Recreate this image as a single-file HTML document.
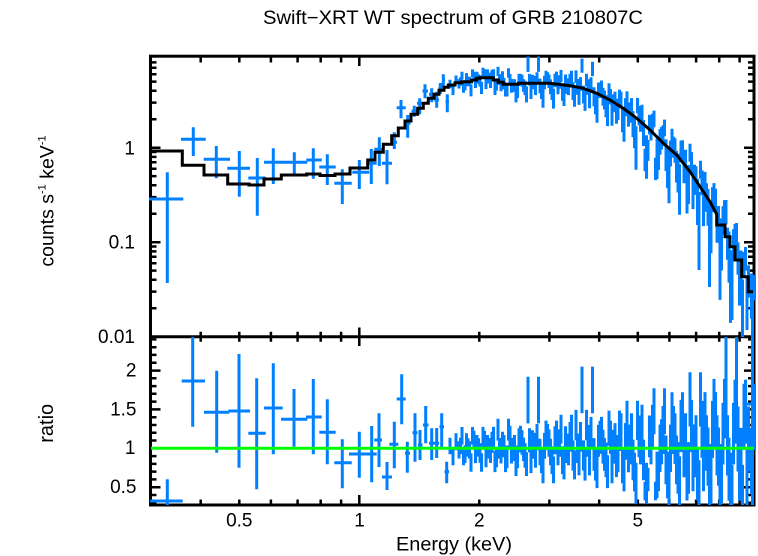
<!DOCTYPE html>
<html>
<head>
<meta charset="utf-8">
<style>
html,body{margin:0;padding:0;background:#fff;}
svg{display:block;}
text{font-family:"Liberation Sans",Arial,Helvetica,sans-serif;fill:#000;}
</style>
</head>
<body>
<svg xmlns="http://www.w3.org/2000/svg" width="758" height="556" viewBox="0 0 758 556">
<defs>
<clipPath id="cTop"><rect x="148" y="54" width="608" height="283"/></clipPath>
<clipPath id="cRat"><rect x="148" y="337" width="608" height="168"/></clipPath>
</defs>
<rect x="0" y="0" width="758" height="556" fill="#fff"/>

<text x="453" y="24" font-size="19.5" text-anchor="middle" textLength="380" lengthAdjust="spacingAndGlyphs">Swift−XRT WT spectrum of GRB 210807C</text>

<g fill="none" stroke="#000" stroke-width="3">
<rect x="150.5" y="56.2" width="603.5" height="448.8"/>
<path d="M150.5 336.8H754"/>
</g>
<g fill="none" stroke="#000" stroke-width="2.5">
<path d="M200.7 56v6.5M239.3 56v6.5M270.9 56v6.5M297.6 56v6.5M320.7 56v6.5M341.1 56v6.5M359.3 56v10M479.3 56v6.5M549.4 56v6.5M599.2 56v6.5M637.8 56v6.5M669.4 56v6.5M696.1 56v6.5M719.2 56v6.5M739.6 56v6.5"/>
<path d="M200.7 331.8v10M239.3 331.8v10M270.9 331.8v10M297.6 331.8v10M320.7 331.8v10M341.1 331.8v10M359.3 327.5v18.5M479.3 331.8v10M549.4 331.8v10M599.2 331.8v10M637.8 331.8v10M669.4 331.8v10M696.1 331.8v10M719.2 331.8v10M739.6 331.8v10"/>
<path d="M200.7 505v-5.5M239.3 505v-5.5M270.9 505v-5.5M297.6 505v-5.5M320.7 505v-5.5M341.1 505v-5.5M359.3 505v-10M479.3 505v-5.5M549.4 505v-5.5M599.2 505v-5.5M637.8 505v-5.5M669.4 505v-5.5M696.1 505v-5.5M719.2 505v-5.5M739.6 505v-5.5"/>
<path d="M150 308.3h6.5M150 291.6h6.5M150 279.8h6.5M150 270.6h6.5M150 263.2h6.5M150 256.8h6.5M150 251.4h6.5M150 246.5h6.5M150 242.2h10.5M150 213.8h6.5M150 197.1h6.5M150 185.3h6.5M150 176.1h6.5M150 168.7h6.5M150 162.3h6.5M150 156.9h6.5M150 152h6.5M150 147.7h10.5M150 119.3h6.5M150 102.6h6.5M150 90.8h6.5M150 81.6h6.5M150 74.2h6.5M150 67.8h6.5M150 62.4h6.5M150 336.7h10.5"/>
<path d="M754 308.3h-6M754 291.6h-6M754 279.8h-6M754 270.6h-6M754 263.2h-6M754 256.8h-6M754 251.4h-6M754 246.5h-6M754 242.2h-10M754 213.8h-6M754 197.1h-6M754 185.3h-6M754 176.1h-6M754 168.7h-6M754 162.3h-6M754 156.9h-6M754 152h-6M754 147.7h-10M754 119.3h-6M754 102.6h-6M754 90.8h-6M754 81.6h-6M754 74.2h-6M754 67.8h-6M754 62.4h-6"/>
<path d="M150 502.8h6.5M150 495h6.5M150 487.2h10.5M150 479.4h6.5M150 471.6h6.5M150 463.9h6.5M150 456.1h6.5M150 448.3h10.5M150 440.5h6.5M150 432.7h6.5M150 425h6.5M150 417.2h6.5M150 409.4h10.5M150 401.6h6.5M150 393.8h6.5M150 386.1h6.5M150 378.3h6.5M150 370.6h10.5M150 362.7h6.5M150 354.9h6.5M150 347.2h6.5M150 339.4h6.5"/>
<path d="M754 502.8h-6M754 495h-6M754 487.2h-10M754 479.4h-6M754 471.6h-6M754 463.9h-6M754 456.1h-6M754 448.3h-10M754 440.5h-6M754 432.7h-6M754 425h-6M754 417.2h-6M754 409.4h-10M754 401.6h-6M754 393.8h-6M754 386.1h-6M754 378.3h-6M754 370.6h-10M754 362.7h-6M754 354.9h-6M754 347.2h-6M754 339.4h-6"/>
</g>

<g font-size="19" text-anchor="end">
<text x="135" y="154.5">1</text>
<text x="135" y="248.7">0.1</text>
<text x="135" y="342.8">0.01</text>
<text x="136.5" y="376.5">2</text>
<text x="136.5" y="415.3">1.5</text>
<text x="135.5" y="454.2">1</text>
<text x="136.5" y="493.2">0.5</text>
</g>
<g font-size="19" text-anchor="middle">
<text x="239.3" y="526.7">0.5</text>
<text x="359.6" y="526.7">1</text>
<text x="479.3" y="526.7">2</text>
<text x="637.8" y="526.7">5</text>
</g>

<text x="454" y="550.7" font-size="19.5" text-anchor="middle" textLength="116" lengthAdjust="spacingAndGlyphs">Energy (keV)</text>
<text transform="translate(53.3,201) rotate(-90)" font-size="19.5" text-anchor="middle">counts s<tspan font-size="11" dy="-8">-1</tspan><tspan dy="8"> keV</tspan><tspan font-size="11" dy="-8">-1</tspan></text>
<text transform="translate(53,423.3) rotate(-90)" font-size="20" text-anchor="middle">ratio</text>

<!-- top panel data -->
<g clip-path="url(#cTop)" fill="none" stroke="#0080ff" stroke-width="3">
<path d="M167.3 172.3V283M149 199H183.3
M193.3 127.3V156M181 139.3H205.7
M216.3 146V178.3M203.7 159.3H230
M239.3 151V196.7M227.3 168.3H250
M257.3 158V215.7M248.3 178H265.7
M273.3 148.3V184M264 162.3H282.7
M294.3 152.3V174M282.7 162.3H307.3
M313.3 148.3V178.7M306.3 160H321.7
M327.3 154.3V185M319.3 167H335.7
M342.3 169.3V204M334.3 183.3H351.7
M359.3 160V189M352.3 172.3H369.3
M371.3 149V184M369 163.3H376.7
M379.3 137.3V166M374.3 149.3H382
M387 150V184.3M382 163.3H392
M394.3 132.3V149M392 142.3H397
M401 100V118.3M396.7 107.7H405.7
M407.7 115V137.7M405.2 123.3H410.5
M414.3 105.7V116.7M411.5 111H417
M419.7 98.3V114.3M417 103.3H422.5
M425 84.3V98.3M422.5 91H428
M431.7 88.3V102.3M429 94.3H434.5
M436.7 91.7V107.7M434.3 100H439
M440.3 83V94M438.5 88.3H442.3
M443.3 74.3V86.7M441.8 80H445
M447.3 94.3V112.3M445.5 101.7H449
M752.5 292V340"/>
<path id="t0" d="M450 79.8V88.2M448.5 83.8H451.5M453 85.2V95.1M451.5 89.9H454.5M456 75.5V83.8M454.5 79.4H457.5M459 79.2V88.5M457.5 83.6H460.5M462 71.8V79.8M460.5 75.6H463.5M465 80.1V90.4M463.5 84.9H466.5M468 76.8V86.3M466.5 81.3H469.5M471 84.3V96.4M469.5 89.9H472.5M474 71.6V80.7M472.5 75.9H475.5M477 71.8V81.6M475.5 76.4H478.5"/>
<path id="t1" d="M480 75.3V86.5M478.5 80.5H481.5M483 67.7V77M481.5 72.1H484.5M486 76.9V89.1M484.5 82.6H487.5M489 72.6V83.5M487.5 77.7H490.5M492 69.8V80.1M490.5 74.7H493.5M495 81.3V95M493.5 87.6H496.5M498 66.8V76.1M496.5 71.2H499.5M501 78.8V91.3M499.5 84.6H502.5M504 77.8V89.4M502.5 83.2H505.5M507 82.9V96.5M505.5 89.1H508.5"/>
<path id="t2" d="M510 73.9V84.6M508.5 78.9H511.5M513 79.1V91.7M511.5 84.9H514.5M516 86.4V102.4M514.5 93.6H517.5M519 73.9V85.5M517.5 79.3H520.5M522 74.7V86.8M520.5 80.4H523.5M525 80.6V95.1M523.5 87.2H526.5M528 56.5V71.9M526.5 63.5H529.5M531 83V99M529.5 90.2H532.5M534 75.9V89.2M532.5 82H535.5M537 72.2V84.3M535.5 77.8H538.5"/>
<path id="t3" d="M540 78.6V93.3M538.5 85.3H541.5M543 87.9V107.8M541.5 96.6H544.5M546 70.8V83M544.5 76.5H547.5M549 74.4V88M547.5 80.6H550.5M552 82.4V100M550.5 90.3H553.5M555 73.7V87.2M553.5 79.9H556.5M558 78.6V94.3M556.5 85.8H559.5M561 69.9V82.2M559.5 75.6H562.5M564 86.1V106M562.5 94.8H565.5M567 78.2V93.9M565.5 85.3H568.5"/>
<path id="t4" d="M570 73.8V87.6M568.5 80.1H571.5M573 82.3V100.1M571.5 90.2H574.5M576 70.4V82.9M574.5 76.2H577.5M579 85.5V104.9M577.5 94.1H580.5M582 58.6V72.8M580.5 65.1H583.5M585 89.3V110.9M583.5 98.6H586.5M588 79.2V94.7M586.5 86.2H589.5M591 77.2V91.5M589.5 83.7H592.5M594 87.3V106.2M592.5 95.7H595.5M597 97.3V122.8M595.5 108.1H598.5"/>
<path id="t5" d="M600 82.5V98M598.5 89.6H601.5M603 87.9V105.7M601.5 95.9H604.5M606 95.3V117.2M604.5 104.8H607.5M609 83.3V98.2M607.5 90.1H610.5M612 100.8V125.8M610.5 111.4H613.5M615 91.7V109.7M613.5 99.7H616.5M618 98.6V120.1M616.5 108H619.5M621 91.6V108.4M619.5 99.1H622.5M624 111.2V141.8M622.5 123.8H625.5M627 91.4V106.8M625.5 98.4H628.5"/>
<path id="t6" d="M630 102.4V122.8M628.5 111.3H631.5M633 111.1V137.1M631.5 122.1H634.5M636 126.3V169.7M634.5 142.5H637.5M639 105.9V125.4M637.5 114.5H640.5M642 104.7V122.4M640.5 112.6H643.5M645 148.7V171.1M643.5 158.3H646.5M648 140V160.9M646.5 149.2H649.5M651 118V140.5M649.5 127.7H652.5M654 110.6V127.2M652.5 118H655.5M657 138.8V179.1M655.5 154.2H658.5"/>
<path id="t7" d="M660 129.1V154.8M658.5 140H661.5M663 125.2V146.2M661.5 134.3H664.5M666 139.4V171M664.5 152.2H667.5M669 152.7V203.3M667.5 170.7H670.5M672 128.7V147.9M670.5 137.2H673.5M675 138.2V162.7M673.5 148.7H676.5M678 153.5V192.5M676.5 168.5H679.5M681 140.6V162.5M679.5 150.1H682.5M684 153.1V183.2M682.5 165.4H685.5M687 167.2V213.5M685.5 184.2H688.5"/>
<path id="t8" d="M690 143.8V161.6M688.5 151.7H691.5M693 170.4V209.1M691.5 185.4H694.5M696 166.2V194.7M694.5 178H697.5M699 192V270M697.5 214.8H700.5M702 170.2V195.1M700.5 180.8H703.5M705 171.9V194.9M703.5 181.8H706.5M708 189V225.7M706.5 203.3H709.5M711 201.4V253.4M709.5 219.6H712.5M714 183.1V204.3M712.5 192.3H715.5M717 210.6V242.7M715.5 223.5H718.5"/>
<path id="t9" d="M720 227.3V299.9M718.5 249.3H721.5M723 206.2V234.6M721.5 217.9H724.5M726 200V224.4M724.5 210.4H727.5M729 231.5V282.6M727.5 249.5H730.5M732 256.5V320M730.5 286.6H733.5M735 224V247.7M733.5 234.2H736.5M738 242.4V274.6M736.5 255.4H739.5M741 250.5V295.8M739.5 267.1H742.5M744 251.9V277.6M742.5 262.7H745.5M747 277.5V330M745.5 301.2H748.5"/>
<use href="#t0" transform="translate(10.5,-2.4)"/>
<use href="#t1" transform="translate(10.5,1.5)"/>
<use href="#t2" transform="translate(10.5,0)"/>
<use href="#t3" transform="translate(10.5,0.8)"/>
<use href="#t4" transform="translate(10.5,3.3)"/>
<use href="#t5" transform="translate(10.5,6.5)"/>
<use href="#t6" transform="translate(10.5,9)"/>
<use href="#t7" transform="translate(10.5,11.5)"/>
<use href="#t8" transform="translate(10.5,17)"/>
<use href="#t9" transform="translate(10.5,23)"/>
</g>

<!-- ratio panel data -->
<g clip-path="url(#cRat)" fill="none" stroke="#0080ff" stroke-width="3">
<path d="M167.3 479.3V507M150 501H182.7
M192.7 336V426.7M181.7 381H205
M216.7 370.7V452.7M204 412.3H229.3
M239 354V467.7M228.3 411H250
M256.7 378.3V489.3M248.3 433.3H265.7
M273.3 363.3V454.3M264 408H282.7
M294 389V446.7M281 419.3H307.3
M313.3 379V454.3M306 417H321.7
M327.3 399.3V464.3M319.3 432.3H335.7
M342.3 439.3V488.3M334.3 462.7H351.7
M359.3 431.7V477.7M349 454H370
M371.7 426V482.3M369 454H376.7
M379 413.3V467M374.3 440H382
M387 462V490M382 477H392
M394.3 421.7V468.3M389.3 444.3H398.3
M401.7 374.3V424.3M396.7 399H405.7
M407.3 441.7V472.7M405 453.3H410
M415 413.3V461.7M412.5 432.7H417.5
M420 430V460M418 445H422.5
M425.7 406V443.3M423 425H428.5
M431.7 428.3V460M429 443.3H434.5
M436.7 428V458M434.3 443.3H439
M441.7 413.3V448.3M439.5 426.7H444
M446.7 461.7V483.3M444.5 471.7H449
M752.5 336V505M745 404H756"/>
<path id="rg" d="M450 437.8V454.2M448.5 446H451.5M453 448.7V465.3M451.5 457H454.5M456 433.3V450.3M454.5 441.8H457.5M459 441.3V458.5M457.5 449.9H460.5M462 427V444.6M460.5 435.8H463.5M465 445.3V463.1M463.5 454.2H466.5M468 438.2V456.6M466.5 447.4H469.5M471 453.2V471.8M469.5 462.5H472.5M474 430.7V449.7M472.5 440.2H475.5M477 435V454.2M475.5 444.6H478.5
M480 443.1V462.9M478.5 453H481.5M483 426.9V446.9M481.5 436.9H484.5M486 446.8V467.2M484.5 457H487.5M489 438V458.6M487.5 448.3H490.5M492 431.8V452.8M490.5 442.3H493.5M495 450.7V472.1M493.5 461.4H496.5M498 418.8V440.6M496.5 429.7H499.5M501 441.5V463.5M499.5 452.5H502.5M504 435V457.4M502.5 446.2H505.5M507 445.5V468.3M505.5 456.9H508.5
M510 425.8V448.8M508.5 437.3H511.5M513 437.7V461.1M511.5 449.4H514.5M516 452.2V476M514.5 464.1H517.5M519 428.2V452.4M517.5 440.3H520.5M522 430.3V454.7M520.5 442.5H523.5M525 443V467.8M523.5 455.4H526.5M528 376.8V423.4M526.5 400.1H529.5M531 447.7V473.1M529.5 460.4H532.5M534 432.9V458.7M532.5 445.8H535.5M537 424V450.2M535.5 437.1H538.5
M540 438.8V465.2M538.5 452H541.5M543 456.5V483.3M541.5 469.9H544.5M546 420.6V447.6M544.5 434.1H547.5M549 429.4V456.8M547.5 443.1H550.5M552 446.3V474.1M550.5 460.2H553.5M555 426.2V454.4M553.5 440.3H556.5M558 436.8V465.2M556.5 451H559.5M561 414.8V443.6M559.5 429.2H562.5M564 450.4V479.4M562.5 464.9H565.5M567 433.6V463M565.5 448.3H568.5
M570 422V451.8M568.5 436.9H571.5M573 440.4V470.6M571.5 455.5H574.5M576 409.9V440.3M574.5 425.1H577.5M579 444.6V475.4M577.5 460H580.5M582 366.6V413.2M580.5 389.9H583.5M585 449V480.6M583.5 464.8H586.5M588 424.9V456.7M586.5 440.8H589.5M591 416.9V449.1M589.5 433H592.5M594 438.1V470.7M592.5 454.4H595.5M597 455.3V488.1M595.5 471.7H598.5
M600 420.7V453.9M598.5 437.3H601.5M603 429.8V463.6M601.5 446.7H604.5M606 442.5V477.1M604.5 459.8H607.5M609 410.6V445.8M607.5 428.2H610.5M612 447.4V483.2M610.5 465.3H613.5M615 423.1V459.7M613.5 441.4H616.5M618 435V472.2M616.5 453.6H619.5M621 413.2V451M619.5 432.1H622.5M624 452.8V491.4M622.5 472.1H625.5M627 400.8V440M625.5 420.4H628.5
M630 424.6V464.4M628.5 444.5H631.5M633 439.6V480.2M631.5 459.9H634.5M636 462.9V504.1M634.5 483.5H637.5M639 415.5V457.3M637.5 436.4H640.5M642 404.7V447.3M640.5 426H643.5M645 481.8V500.4M643.5 491.1H646.5M648 467.7V491.1M646.5 479.4H649.5M651 419.2V464.4M649.5 441.8H652.5M654 388.3V434.3M652.5 411.3H655.5M657 451.6V498.2M655.5 474.9H658.5
M660 424.6V472M658.5 448.3H661.5M663 406V454M661.5 430H664.5M666 435.5V484.3M664.5 459.9H667.5M669 456.4V505.8M667.5 481.1H670.5M672 392.2V442.4M670.5 417.3H673.5M675 413.3V464.1M673.5 438.7H676.5M678 442.1V493.7M676.5 467.9H679.5M681 399.9V452.1M679.5 426H682.5M684 424.4V477.2M682.5 450.8H685.5M687 446.9V500.5M685.5 473.7H688.5
M690 372.3V426.5M688.5 399.4H691.5M693 436.5V491.3M691.5 463.9H694.5M696 415.2V470.8M694.5 443H697.5M699 460.2V516.4M697.5 488.3H700.5M702 400.9V457.9M700.5 429.4H703.5M705 392.1V449.7M703.5 420.9H706.5M708 427.5V485.7M706.5 456.6H709.5M711 444V503M709.5 473.5H712.5M714 378.9V438.5M712.5 408.7H715.5M717 415.3V475.5M715.5 445.4H718.5
M720 452.6V513.6M718.5 483.1H721.5M723 402.9V464.5M721.5 433.7H724.5M726 335.5V421.1M724.5 378.3H727.5M729 437.7V500.7M727.5 469.2H730.5M732 464.9V528.5M730.5 496.7H733.5M735 379.6V443.8M733.5 411.7H736.5M738 406.5V471.5M736.5 439H739.5M741 427.9V493.5M739.5 460.7H742.5M744 383.7V449.9M742.5 416.8H745.5M747 449.8V516.8M745.5 483.3H748.5"/>
<use href="#rg" transform="translate(10.5,0)"/>
</g>

<path fill="none" stroke="#000" stroke-width="3" d="M151 151H182.3V165.3H204V175H227.7V184H249V185H264V179H281.3V175H306.7V174H320V175.5H335V174H350V168H367.7V160H375V152.3H383.3V144.3H391.7V135.7H398.3V128H405V121H411V114.3H417.7V108.3H423.3V103.3H428.3V98.3H434V94.3H439V90.3H444V87.3H448.3V85H455V82.7H461.7V81.7H471.7V80H476.7V78.3H480V77.7H493.3V80H498.3V82.3H503.3V84.3H518.3V83.3H550L570 85.7L583.3 88.3L596.7 93.3L610 100L623.3 108.3L636.7 118.3L650 130L663.3 143.3L676.7 155L690 171.7L700 186.7L710 201.7L716.7 214.3V225H725V236.7H730V246.7H735V260H741.7V276.7H748.3V291.7H753"/>

<path d="M151 448.3H754" stroke="#00ff00" stroke-width="3" fill="none"/>
</svg>
</body>
</html>
